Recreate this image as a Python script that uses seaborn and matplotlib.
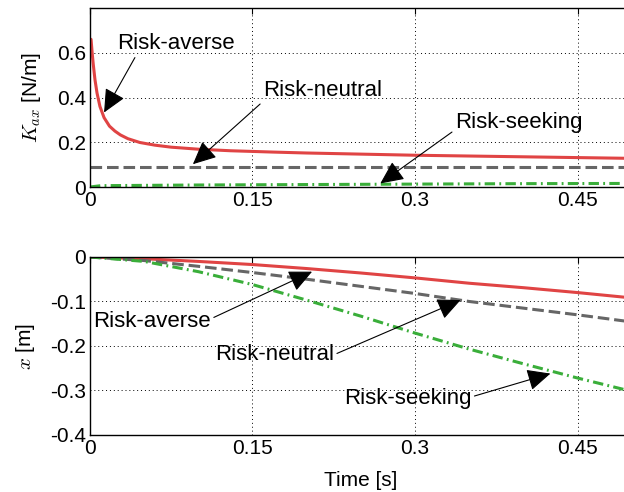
import numpy as np
import pandas as pd
import matplotlib
matplotlib.use('Agg')
import matplotlib.pyplot as plt
import seaborn as sns

# --- data ---
# top panel: stiffness K_ax [N/m]
t_k_averse = [0.001, 0.002, 0.003, 0.0046, 0.0065, 0.0092, 0.013, 0.018, 0.023,
              0.028, 0.035, 0.046, 0.06, 0.075, 0.1, 0.13, 0.17, 0.2, 0.25,
              0.3, 0.4, 0.5]
k_averse = [0.66, 0.60, 0.55, 0.48, 0.42, 0.36, 0.31, 0.272, 0.25,
            0.233, 0.216, 0.199, 0.187, 0.178, 0.169, 0.162, 0.156, 0.152, 0.147,
            0.142, 0.135, 0.128]
t_k_neutral = [0.0, 0.5]
k_neutral = [0.088, 0.088]
t_k_seeking = [0.0, 0.01, 0.1, 0.2, 0.3, 0.4, 0.5]
k_seeking = [0.0, 0.006, 0.009, 0.011, 0.013, 0.015, 0.016]

# bottom panel: position x [m]
t_x = [0.0, 0.05, 0.1, 0.15, 0.2, 0.25, 0.3, 0.35, 0.4, 0.45, 0.5]
x_averse = [0.0, -0.004, -0.010, -0.017, -0.026, -0.036, -0.047, -0.059, -0.069, -0.080, -0.092]
x_neutral = [0.0, -0.008, -0.021, -0.035, -0.050, -0.066, -0.082, -0.100, -0.115, -0.130, -0.146]
x_seeking = [0.0, -0.010, -0.033, -0.062, -0.097, -0.133, -0.171, -0.207, -0.240, -0.272, -0.302]

labels = ['Risk-averse', 'Risk-neutral', 'Risk-seeking']
x_ticks = [0, 0.15, 0.3, 0.45]
k_ticks = [0, 0.2, 0.4, 0.6]
pos_ticks = [0, -0.1, -0.2, -0.3, -0.4]

# annotation anchors: text position, arrow tip (data coords), tail point on the text box
top_notes = [((0.079, 0.64), (0.013, 0.333), (0.17, 0.0)),
             ((0.215, 0.431), (0.095, 0.102), (0.0, 0.0)),
             ((0.396, 0.289), (0.268, 0.016), (0.0, 0.15))]
bottom_notes = [((0.057, -0.144), (0.205, -0.033), (1.0, 0.6)),
                ((0.170, -0.220), (0.342, -0.097), (1.0, 0.5)),
                ((0.293, -0.317), (0.425, -0.262), (1.0, 0.55))]

# --- styling ---
sns.set_style('white')
plt.rcParams['font.family'] = ['Liberation Sans', 'DejaVu Sans']
plt.rcParams['mathtext.fontset'] = 'cm'
for key in ['text.color', 'axes.labelcolor', 'xtick.color', 'ytick.color']:
    plt.rcParams[key] = 'black'

RED = '#e04444'
GRAY = '#666666'
GREEN = '#3aae3a'
LW = 2.2
DASHED = (0, (3.8, 1.6))
DASHDOT = (0, (3.4, 1.4, 0.6, 1.4))

fig = plt.figure(figsize=(6.24, 4.92), dpi=100)
ax1 = fig.add_axes([0.1442, 0.6199, 0.8681, 0.3638])
ax2 = fig.add_axes([0.1442, 0.1159, 0.8681, 0.3618])

sns.lineplot(x=t_k_averse, y=k_averse, ax=ax1, color=RED, lw=LW, linestyle='-')
sns.lineplot(x=t_k_neutral, y=k_neutral, ax=ax1, color=GRAY, lw=LW, linestyle=DASHED)
sns.lineplot(x=t_k_seeking, y=k_seeking, ax=ax1, color=GREEN, lw=LW, linestyle=DASHDOT)

sns.lineplot(x=t_x, y=x_averse, ax=ax2, color=RED, lw=LW, linestyle='-')
sns.lineplot(x=t_x, y=x_neutral, ax=ax2, color=GRAY, lw=LW, linestyle=DASHED)
sns.lineplot(x=t_x, y=x_seeking, ax=ax2, color=GREEN, lw=LW, linestyle=DASHDOT)

for ax, notes in [(ax1, top_notes), (ax2, bottom_notes)]:
    for lab, (txt, tip, rel) in zip(labels, notes):
        ax.annotate(lab, xy=tip, xytext=txt, ha='center', va='center', fontsize=16,
                    arrowprops=dict(arrowstyle='-|>,head_length=0.9,head_width=0.42',
                                    color='black', lw=0.8, shrinkA=0, shrinkB=0,
                                    relpos=rel))

for ax in (ax1, ax2):
    ax.set_xlim(0, 0.5)
    ax.set_xticks(x_ticks)
    ax.set_xticklabels(['0', '0.15', '0.3', '0.45'])
    ax.grid(True, color='black', linestyle=(0, (1, 3)), linewidth=0.7)
    ax.tick_params(direction='in', length=4, width=0.8, labelsize=15, pad=3,
                   top=True, right=True)
    for s in ax.spines.values():
        s.set_color('black')
        s.set_linewidth(1.0)

ax1.set_ylim(0, 0.8)
ax1.set_yticks(k_ticks)
ax1.set_yticklabels(['0', '0.2', '0.4', '0.6'])
ax1.set_ylabel(r'$K_{ax}$ [N/m]', fontsize=15, labelpad=10)

ax2.set_ylim(-0.4, 0)
ax2.set_yticks(pos_ticks)
ax2.set_yticklabels(['0', '-0.1', '-0.2', '-0.3', '-0.4'])
ax2.set_ylabel(r'$x$ [m]', fontsize=15, labelpad=9)
ax2.set_xlabel('Time [s]', fontsize=15, labelpad=9)

fig.savefig('out.png', dpi=100)
